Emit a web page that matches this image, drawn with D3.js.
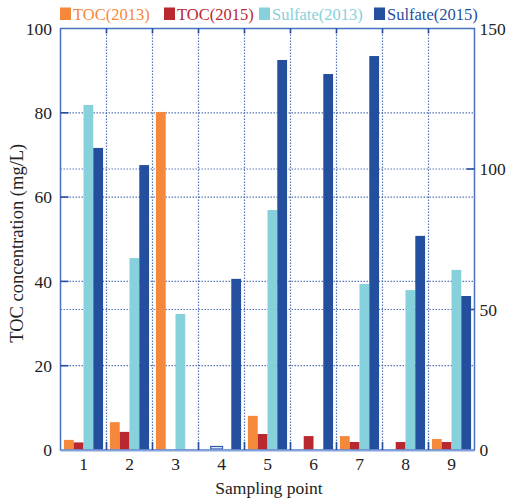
<!DOCTYPE html>
<html>
<head>
<meta charset="utf-8">
<script src="https://cdn.jsdelivr.net/npm/d3@7"></script>
<style>
html,body{margin:0;padding:0;background:#fff;}
svg text{font-family:"Liberation Serif","Times New Roman",Times,serif;}
</style>
</head>
<body>
<svg id="chart" width="509" height="501"></svg>
<script>
const categories = ["1","2","3","4","5","6","7","8","9"];
const toc2013 = [2.4, 6.6, 80.2, 0, 8.1, 0, 3.3, 0, 2.6];
const toc2015 = [1.8, 4.3, 0, 0.6, 3.8, 3.3, 1.9, 1.9, 1.9];
const sulfate2013 = [122.8, 68.3, 48.4, 0, 85.4, 0, 59.1, 56.9, 64.1];
const sulfate2015 = [107.5, 101.4, 0, 60.9, 138.8, 133.8, 140.2, 76.2, 54.8];
const seriesNames = ["TOC(2013)", "TOC(2015)", "Sulfate(2013)", "Sulfate(2015)"];
const leftTicks = [0, 20, 40, 60, 80, 100];
const rightTicks = [0, 50, 100, 150];
const xTitle = "Sampling point";
const yTitle = "TOC concentration (mg/L)";

const colors = ["#f5883a", "#b9272f", "#86d1db", "#244f9f"];
const seriesData = [toc2013, toc2015, sulfate2013, sulfate2015];
const seriesAxis = ["left", "left", "right", "right"];
const FONT = "'Liberation Serif','Times New Roman',Times,serif";

const L = 60.5, R = 474.5, T = 28.5, B = 450;
const svg = d3.select("#chart").attr("font-family", FONT);

const x = d3.scaleBand().domain(categories).range([L, R]).padding(0);
const xs = d3.scaleBand().domain(seriesNames).range([0, x.bandwidth()]).paddingInner(0).paddingOuter(0.35);
const yL = d3.scaleLinear().domain([0, 100]).range([B, T]);
const yR = d3.scaleLinear().domain([0, 150]).range([B, T]);

const gridColor = "#2c55a8";
const g = svg.append("g");

const hLines = leftTicks.filter(t => t > 0 && t < 100).map(t => yL(t))
  .concat(rightTicks.filter(t => t > 0 && t < 150).map(t => yR(t)));
g.selectAll("line.hg").data(hLines).join("line")
  .attr("x1", L).attr("x2", R).attr("y1", d => d).attr("y2", d => d)
  .attr("stroke", gridColor).attr("stroke-width", 1.2).attr("stroke-dasharray", "1.5,1.5").attr("opacity", 0.8);
const bounds = categories.slice(1).map(c => x(c));
g.selectAll("line.vg").data(bounds).join("line")
  .attr("x1", d => d).attr("x2", d => d).attr("y1", T).attr("y2", B)
  .attr("stroke", gridColor).attr("stroke-width", 1.2).attr("stroke-dasharray", "1.5,1.5").attr("opacity", 0.8);

seriesNames.forEach((name, si) => {
  const yS = seriesAxis[si] === "left" ? yL : yR;
  const vals = seriesData[si];
  g.selectAll("rect.s" + si).data(categories.map((c, i) => ({c, v: vals[i]})).filter(d => d.v > 0)).join("rect")
    .attr("x", d => x(d.c) + xs(name) - (d.v < 1 ? 1 : 0))
    .attr("width", d => xs.bandwidth() + (d.v < 1 ? 2 : 0))
    .attr("y", d => yS(d.v) - (d.v < 1 ? 1 : 0))
    .attr("height", d => B - yS(d.v))
    .attr("fill", d => d.v < 1 ? "#e6edf9" : colors[si])
    .attr("stroke", d => d.v < 1 ? "#2f5cb0" : "none")
    .attr("stroke-width", d => d.v < 1 ? 1.2 : 0);
});

g.append("rect").attr("x", L).attr("y", T).attr("width", R - L).attr("height", B - T)
  .attr("fill", "none").attr("stroke", "#4a70c0").attr("stroke-width", 1.5);
g.append("line").attr("x1", L).attr("x2", R).attr("y1", B + 0.5).attr("y2", B + 0.5)
  .attr("stroke", "#86a3dc").attr("stroke-width", 2);

const tickColor = "#244f9f";
g.selectAll("line.lt").data(leftTicks.filter(t => t > 0 && t < 100)).join("line")
  .attr("x1", L).attr("x2", L + 8).attr("y1", d => yL(d)).attr("y2", d => yL(d))
  .attr("stroke", tickColor).attr("stroke-width", 1.6);
g.selectAll("line.rt").data(rightTicks.filter(t => t > 0 && t < 150)).join("line")
  .attr("x1", R - 8).attr("x2", R).attr("y1", d => yR(d)).attr("y2", d => yR(d))
  .attr("stroke", tickColor).attr("stroke-width", 1.6);
g.selectAll("line.bt").data(bounds).join("line")
  .attr("x1", d => d).attr("x2", d => d).attr("y1", B - 8).attr("y2", B)
  .attr("stroke", tickColor).attr("stroke-width", 1.6);
g.selectAll("line.tt").data(bounds).join("line")
  .attr("x1", d => d).attr("x2", d => d).attr("y1", T).attr("y2", T + 5)
  .attr("stroke", tickColor).attr("stroke-width", 1.6);

const tf = 17.5, tc = "#222";
svg.selectAll("text.yl").data(leftTicks).join("text")
  .attr("font-family", FONT)
  .attr("x", 52).attr("y", d => yL(d)).attr("dy", "0.36em").attr("text-anchor", "end")
  .attr("font-size", tf).attr("fill", tc).text(d => d);
svg.selectAll("text.yr").data(rightTicks).join("text")
  .attr("font-family", FONT)
  .attr("x", 479.5).attr("y", d => yR(d)).attr("dy", "0.36em").attr("text-anchor", "start")
  .attr("font-size", tf).attr("fill", tc).text(d => d);
svg.selectAll("text.xl").data(categories).join("text")
  .attr("font-family", FONT)
  .attr("x", d => x(d) + x.bandwidth() / 2).attr("y", 469.5).attr("text-anchor", "middle")
  .attr("font-size", tf).attr("fill", tc).text(d => d);

svg.append("text").attr("font-family", FONT).attr("x", (L + R) / 2 + 1.5).attr("y", 494).attr("text-anchor", "middle")
  .attr("font-size", 17.5).attr("fill", tc).text(xTitle);
svg.append("text").attr("font-family", FONT).attr("transform", `translate(23,${(T + B) / 2 + 4}) rotate(-90)`)
  .attr("text-anchor", "middle").attr("font-size", 18.5).attr("fill", tc).text(yTitle);

const legX = [60, 164, 259, 374];
const leg = svg.selectAll("g.leg").data(seriesNames).join("g")
  .attr("transform", (d, i) => `translate(${legX[i]},0)`);
leg.append("rect").attr("x", 0).attr("y", 7.5).attr("width", 11).attr("height", 12.5)
  .attr("fill", (d, i) => colors[i]);
leg.append("text").attr("font-family", FONT).attr("x", 13).attr("y", 19.5).attr("font-size", 16.5)
  .attr("fill", (d, i) => colors[i]).text(d => d);
</script>
</body>
</html>
